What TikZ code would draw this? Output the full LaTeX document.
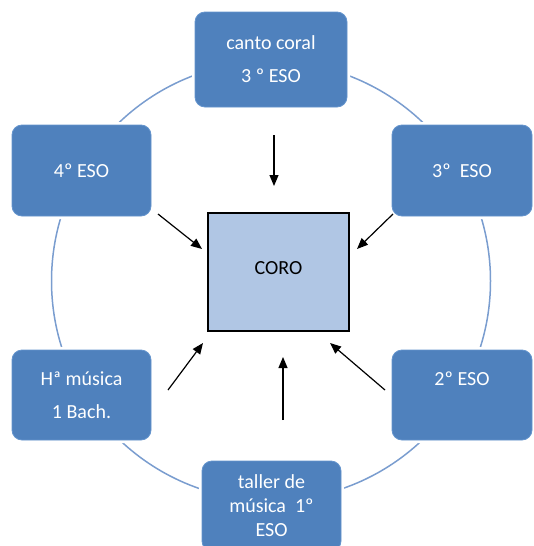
\documentclass[tikz,border=0pt]{standalone}
\usepackage{fontspec}
\setmainfont{Carlito}
\usetikzlibrary{arrows.meta}
\definecolor{boxblue}{RGB}{79,129,189}
\definecolor{boxedge}{RGB}{100,148,205}
\definecolor{ringblue}{RGB}{122,157,207}
\definecolor{corofill}{RGB}{176,198,228}
\tikzset{
  bluebox/.style={rectangle, rounded corners=10pt, fill=boxblue, draw=boxedge, line width=0.8pt,
    preaction={draw=white, line width=6pt},
    text=white, align=center, inner sep=0pt, font=\fontsize{20}{33}\selectfont},
  corobox/.style={rectangle, fill=corofill, draw=black, line width=2.4pt, inner sep=0pt,
    font=\fontsize{20}{24}\selectfont},
  arr/.style={line width=1.2pt, -{Triangle[length=11pt,width=9pt]}},
  ring/.style={draw=ringblue, line width=1.5pt}
}
\begin{document}
\begin{tikzpicture}[x=1pt,y=-1pt]
\useasboundingbox (0,0) rectangle (533,546);
\clip (0,0) rectangle (533,546);
\draw[ring] (271,281) circle (219.5pt);
\node[bluebox, minimum width=152pt, minimum height=95pt] (top) at (271,59.5) {canto coral\\3~º ESO};
\node[bluebox, minimum width=139pt, minimum height=91pt] (lu) at (81.5,170.5) {4º ESO};
\node[bluebox, minimum width=140pt, minimum height=91pt] (ru) at (462,170.5) {3º~~ESO};
\node[bluebox, minimum width=139pt, minimum height=90pt] (ll) at (81.5,395) {Hª música\\1 Bach.};
\node[bluebox, minimum width=140pt, minimum height=90pt] (rl) at (462,395) {2º ESO\\\mbox{}};
\node[bluebox, minimum width=139pt, minimum height=90pt, font=\fontsize{20}{24}\selectfont] (bot) at (271.5,506) {taller de\\música~~1º\\ESO};
\node[corobox, minimum width=141pt, minimum height=118pt] (coro) at (278.5,272) {};
\node (corotext) at (278.5,268) {\fontsize{20}{24}\selectfont CORO};
\coordinate (a1s) at (274,135); \coordinate (a1e) at (274,186);
\coordinate (a2s) at (158,214); \coordinate (a2e) at (202,249);
\coordinate (a3s) at (393,214); \coordinate (a3e) at (357,249);
\coordinate (a4s) at (168,390); \coordinate (a4e) at (203,343);
\coordinate (a5s) at (385,390); \coordinate (a5e) at (330,343);
\coordinate (a6s) at (283,420); \coordinate (a6e) at (283,357);
\draw[arr] (a1s) -- (a1e);
\draw[arr] (a2s) -- (a2e);
\draw[arr] (a3s) -- (a3e);
\draw[arr] (a4s) -- (a4e);
\draw[arr] (a5s) -- (a5e);
\draw[arr] (a6s) -- (a6e);
\end{tikzpicture}
\end{document}
